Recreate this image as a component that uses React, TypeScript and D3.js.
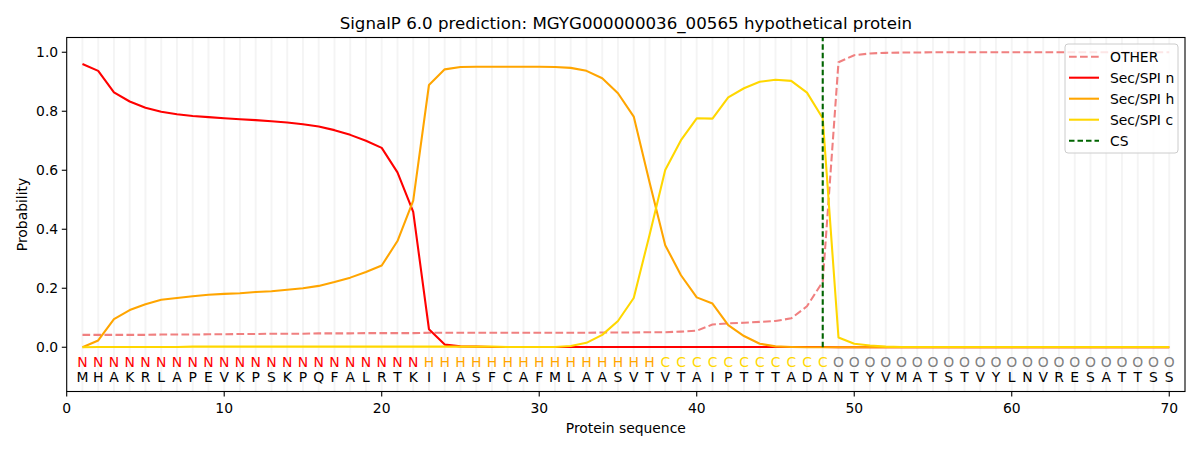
import * as d3 from "d3";

const TITLE = "SignalP 6.0 prediction: MGYG000000036_00565 hypothetical protein";

const residues = "MHAKRLAPEVKPSKPQFALRTKIIASFCAFMLAASVTVTAIPTTTADANTYVMATSTVYLNVRESATTSS".split("");
const regions = "NNNNNNNNNNNNNNNNNNNNNNHHHHHHHHHHHHHHHCCCCCCCCCCCOOOOOOOOOOOOOOOOOOOOOO".split("");

const other = [
  0.042, 0.042, 0.042, 0.042, 0.042, 0.043, 0.043, 0.043, 0.044, 0.044,
  0.045, 0.045, 0.046, 0.046, 0.046, 0.047, 0.047, 0.047, 0.048, 0.048,
  0.048, 0.048, 0.049, 0.049, 0.049, 0.049, 0.049, 0.049, 0.049, 0.049,
  0.049, 0.049, 0.049, 0.050, 0.050, 0.050, 0.051, 0.051, 0.053, 0.056,
  0.077, 0.081, 0.083, 0.086, 0.089, 0.098, 0.139, 0.222, 0.966, 0.990,
  0.996, 0.998, 0.999, 0.999, 1.0, 1.0, 1.0, 1.0, 1.0, 1.0,
  1.0, 1.0, 1.0, 1.0, 1.0, 1.0, 1.0, 1.0, 1.0, 1.0,
];
const secN = [
  0.960, 0.937, 0.864, 0.833, 0.812, 0.798, 0.790, 0.784, 0.780, 0.776,
  0.773, 0.770, 0.766, 0.762, 0.756, 0.748, 0.736, 0.720, 0.700, 0.676,
  0.593, 0.459, 0.061, 0.009, 0.003, 0.002, 0.001, 0.001, 0.001, 0.001,
  0.001, 0.001, 0.001, 0.001, 0.001, 0.001, 0.001, 0.001, 0.001, 0.001,
  0.001, 0.001, 0.001, 0.001, 0.001, 0.001, 0.001, 0.001, 0, 0,
  0, 0, 0, 0, 0, 0, 0, 0, 0, 0,
  0, 0, 0, 0, 0, 0, 0, 0, 0, 0,
];
const secH = [
  0.000, 0.023, 0.095, 0.126, 0.146, 0.161, 0.167, 0.173, 0.178, 0.181,
  0.183, 0.187, 0.190, 0.195, 0.200, 0.208, 0.221, 0.236, 0.255, 0.277,
  0.360, 0.497, 0.889, 0.942, 0.950, 0.951, 0.951, 0.951, 0.951, 0.951,
  0.950, 0.947, 0.937, 0.912, 0.861, 0.782, 0.560, 0.346, 0.244, 0.169,
  0.148, 0.075, 0.038, 0.012, 0.003, 0.001, 0, 0, 0, 0,
  0, 0, 0, 0, 0, 0, 0, 0, 0, 0,
  0, 0, 0, 0, 0, 0, 0, 0, 0, 0,
];
const secC = [
  0.000, 0.001, 0.001, 0.001, 0.001, 0.001, 0.001, 0.002, 0.002, 0.002,
  0.002, 0.002, 0.002, 0.002, 0.002, 0.002, 0.002, 0.002, 0.002, 0.002,
  0.002, 0.002, 0.002, 0.002, 0.002, 0.002, 0.002, 0.001, 0.001, 0.001,
  0.001, 0.004, 0.015, 0.042, 0.089, 0.167, 0.380, 0.601, 0.702, 0.776,
  0.775, 0.847, 0.878, 0.900, 0.907, 0.903, 0.863, 0.776, 0.033, 0.012,
  0.006, 0.002, 0.001, 0.001, 0.001, 0.001, 0.001, 0.001, 0.001, 0.001,
  0.001, 0.001, 0.001, 0.001, 0.001, 0.001, 0.001, 0.001, 0.001, 0.001,
];
const csPos = 48;

const xTicks = [0, 10, 20, 30, 40, 50, 60, 70];
const yTicks = [0, 0.2, 0.4, 0.6, 0.8, 1.0];

const series = [
  { label: "OTHER", values: other, color: "#F08080", dash: "7.7,3.3" },
  { label: "Sec/SPI n", values: secN, color: "#FF0000", dash: null },
  { label: "Sec/SPI h", values: secH, color: "#FFA500", dash: null },
  { label: "Sec/SPI c", values: secC, color: "#FFD700", dash: null },
];

const regionColor: Record<string, string> = {
  N: "#FF0000",
  H: "#FFA500",
  C: "#FFD700",
  O: "#808080",
};

const FONT = "DejaVu Sans, sans-serif";
const FS = 13.9;

export default function App() {
  const width = 1200;
  const height = 450;
  const left = 66.7;
  const right = 1185;
  const top = 37.5;
  const bottom = 391.5;

  const x = d3.scaleLinear().domain([0, 71]).range([left, right]);
  const y = d3.scaleLinear().domain([-0.15, 1.05]).range([bottom, top]);

  const positions = residues.map((_, i) => i + 1);
  const line = d3
    .line<number>()
    .x((_, i) => x(i + 1))
    .y((d) => y(d));

  const legendItems = [
    ...series.map((s) => ({ label: s.label, color: s.color, dash: s.dash })),
    { label: "CS", color: "#006400", dash: "5.5,3" },
  ];

  return (
    <div style={{ position: "absolute", left: 0, top: 0 }}>
      <svg width={width} height={height} style={{ display: "block", fontFamily: FONT }}>
        <rect width={width} height={height} fill="#ffffff" />

        {/* light vertical guides, one per residue */}
        {positions.map((p) => (
          <line key={"g" + p} x1={x(p)} x2={x(p)} y1={top} y2={bottom} stroke="#000" strokeOpacity={0.045} strokeWidth={2} />
        ))}

        {series.map((s) => (
          <path
            key={s.label}
            d={line(s.values) || ""}
            fill="none"
            stroke={s.color}
            strokeWidth={2.08}
            strokeDasharray={s.dash || undefined}
            strokeLinejoin="round"
          />
        ))}

        {/* cleavage site, drawn from 0 up to the top of the axes */}
        <line x1={x(csPos)} x2={x(csPos)} y1={y(0)} y2={y(1.05)} stroke="#006400" strokeWidth={2.08} strokeDasharray="5.5,3" />

        {/* region and residue labels */}
        {regions.map((r, i) => (
          <text key={"r" + i} x={x(i + 1)} y={362} fill={regionColor[r]} fontSize={FS} textAnchor="middle" dominantBaseline="central">
            {r}
          </text>
        ))}
        {residues.map((r, i) => (
          <text key={"a" + i} x={x(i + 1)} y={377} fill="#000" fontSize={FS} textAnchor="middle" dominantBaseline="central">
            {r}
          </text>
        ))}

        {/* frame */}
        <rect x={left} y={top} width={right - left} height={bottom - top} fill="none" stroke="#000" strokeWidth={1.1} />

        {/* x axis */}
        {xTicks.map((t) => (
          <g key={"xt" + t}>
            <line x1={x(t)} x2={x(t)} y1={bottom} y2={bottom + 4.9} stroke="#000" strokeWidth={1.1} />
            <text x={x(t)} y={bottom + 16} fontSize={FS} textAnchor="middle" dominantBaseline="central" fill="#000">
              {t}
            </text>
          </g>
        ))}
        <text x={(left + right) / 2} y={428} fontSize={FS} textAnchor="middle" dominantBaseline="central" fill="#000">
          Protein sequence
        </text>

        {/* y axis */}
        {yTicks.map((t) => (
          <g key={"yt" + t}>
            <line x1={left - 4.9} x2={left} y1={y(t)} y2={y(t)} stroke="#000" strokeWidth={1.1} />
            <text x={left - 8.5} y={y(t)} fontSize={FS} textAnchor="end" dominantBaseline="central" fill="#000">
              {t.toFixed(1)}
            </text>
          </g>
        ))}
        <text
          transform={`translate(22,${(top + bottom) / 2}) rotate(-90)`}
          fontSize={FS}
          textAnchor="middle"
          dominantBaseline="central"
          fill="#000"
        >
          Probability
        </text>

        <text x={(left + right) / 2} y={23} fontSize={16.67} textAnchor="middle" dominantBaseline="central" fill="#000">
          {TITLE}
        </text>

        {/* legend */}
        <g transform="translate(1065,44)">
          <rect x={0} y={0} width={113} height={109} rx={3} fill="#fff" fillOpacity={0.8} stroke="#cccccc" strokeWidth={1} />
          {legendItems.map((d, i) => (
            <g key={d.label} transform={`translate(0,${12.7 + i * 21})`}>
              <line x1={4} x2={34} y1={0} y2={0} stroke={d.color} strokeWidth={2.08} strokeDasharray={d.dash || undefined} />
              <text x={45} y={0} fontSize={FS} dominantBaseline="central" fill="#000">
                {d.label}
              </text>
            </g>
          ))}
        </g>
      </svg>
    </div>
  );
}
